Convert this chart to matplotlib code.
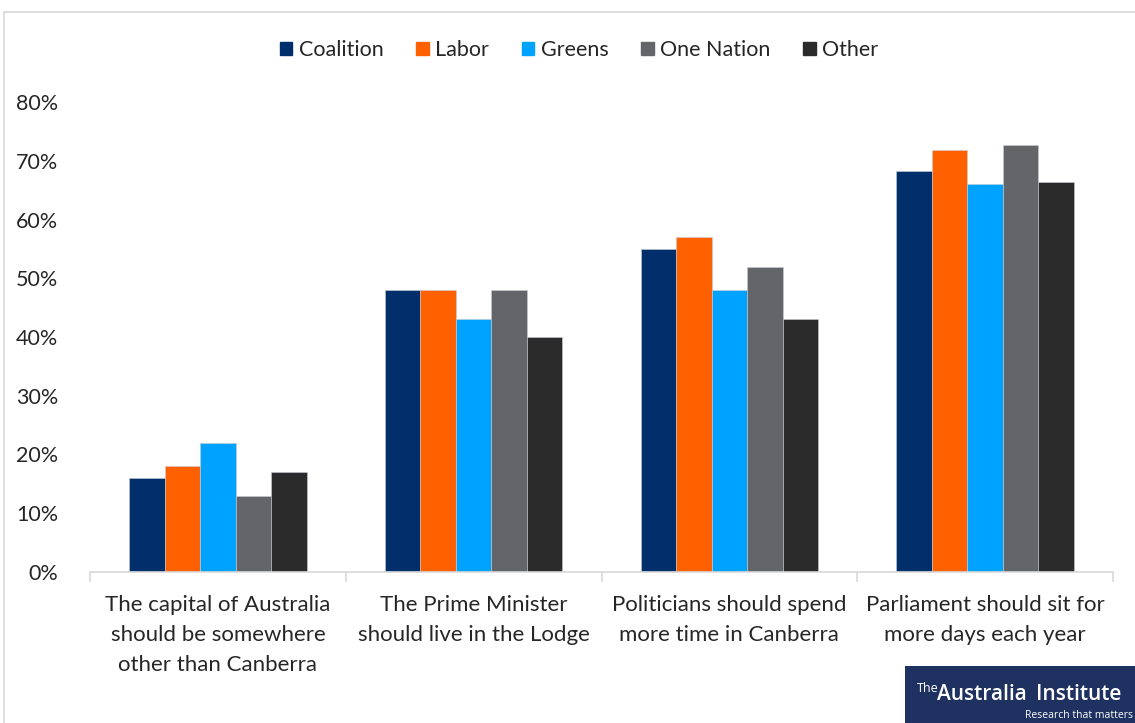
import matplotlib
matplotlib.use("Agg")
import matplotlib.pyplot as plt
import numpy as np
from matplotlib.patches import Rectangle
from matplotlib.lines import Line2D

categories = [
    "The capital of Australia\nshould be somewhere\nother than Canberra",
    "The Prime Minister\nshould live in the Lodge",
    "Politicians should spend\nmore time in Canberra",
    "Parliament should sit for\nmore days each year",
]
series_names = ["Coalition", "Labor", "Greens", "One Nation", "Other"]
coalition = [16, 48, 55, 68.3]
labor = [18, 48, 57, 71.8]
greens = [22, 43, 48, 66.1]
one_nation = [13, 48, 52, 72.7]
other = [17, 40, 43, 66.4]
series_values = [coalition, labor, greens, one_nation, other]
colors = ["#002f6b", "#ff6000", "#00a2ff", "#636569", "#2b2b2b"]
yticks = [0, 10, 20, 30, 40, 50, 60, 70, 80]
ytick_labels = ["0%", "10%", "20%", "30%", "40%", "50%", "60%", "70%", "80%"]

plt.rcParams['font.family'] = ['Lato', 'DejaVu Sans']
W, H = 1135, 723
fig = plt.figure(figsize=(W / 100, H / 100), dpi=100)
fig.patch.set_facecolor("white")

ax = fig.add_axes([90 / W, 1 - 572 / H, (1113 - 90) / W, (572 - 102) / H])
x = np.arange(len(categories))
bw = 0.139
for i, (name, vals, c) in enumerate(zip(series_names, series_values, colors)):
    ax.bar(x + (i - 2) * bw, vals, width=bw, color=c, label=name,
           edgecolor="#c8cdd6", linewidth=0.4)

ax.set_xlim(-0.5, len(categories) - 0.5)
ax.set_ylim(0, 80)
ax.set_yticks(yticks)
ax.set_yticklabels(ytick_labels, fontsize=15.5, color="#262626")
ax.tick_params(axis="y", length=0, pad=23)
for s in ["top", "right", "left"]:
    ax.spines[s].set_visible(False)
ax.spines["bottom"].set_color("#d9d9d9")
ax.spines["bottom"].set_linewidth(1.2)

ax.set_xticks(np.arange(len(categories) + 1) - 0.5)
ax.set_xticklabels([])
ax.tick_params(axis="x", length=7, color="#d9d9d9", width=1.2, direction="out")
for xi, lab in zip(x, categories):
    ax.text(xi, -3.9, lab, ha="center", va="top", fontsize=16, color="#262626",
            linespacing=1.62, transform=ax.transData, clip_on=False)

handles = [Rectangle((0, 0), 1, 1, color=c) for c in colors]
fig.legend(handles, series_names, loc="center", bbox_to_anchor=(579 / W, 1 - 50 / H),
           ncol=5, frameon=False, fontsize=15.5, handlelength=0.6, handleheight=0.6,
           handletextpad=0.3, columnspacing=1.5, labelcolor="#262626")

# chart border
fig.add_artist(Line2D([4 / W, 4 / W], [0, 1 - 12 / H], transform=fig.transFigure,
                      color="#d9d9d9", linewidth=1.2))
fig.add_artist(Line2D([4 / W, 1], [1 - 12 / H, 1 - 12 / H], transform=fig.transFigure,
                      color="#d9d9d9", linewidth=1.2))

# logo
fig.add_artist(Rectangle((905 / W, 0), (W - 905) / W, 57 / H, transform=fig.transFigure,
                         facecolor="#1e3160", edgecolor="none"))
fig.text(917 / W, 1 - 689 / H, "The", fontsize=9, color="white", ha="left", va="center",
         family=["Open Sans", "DejaVu Sans"])
fig.text(937 / W, 1 - 694 / H, "Australia", fontsize=15, color="white", ha="left", va="center",
         fontweight="semibold", family=["Open Sans", "DejaVu Sans"])
fig.text(1121 / W, 1 - 694 / H, "Institute", fontsize=15, color="white", ha="right", va="center",
         fontweight="semibold", family=["Open Sans", "DejaVu Sans"])
fig.text(1133 / W, 1 - 716 / H, "Research that matters", fontsize=7.5, color="white",
         ha="right", va="center", family=["Open Sans", "DejaVu Sans"])

fig.savefig("out.png", dpi=100, facecolor="white")
